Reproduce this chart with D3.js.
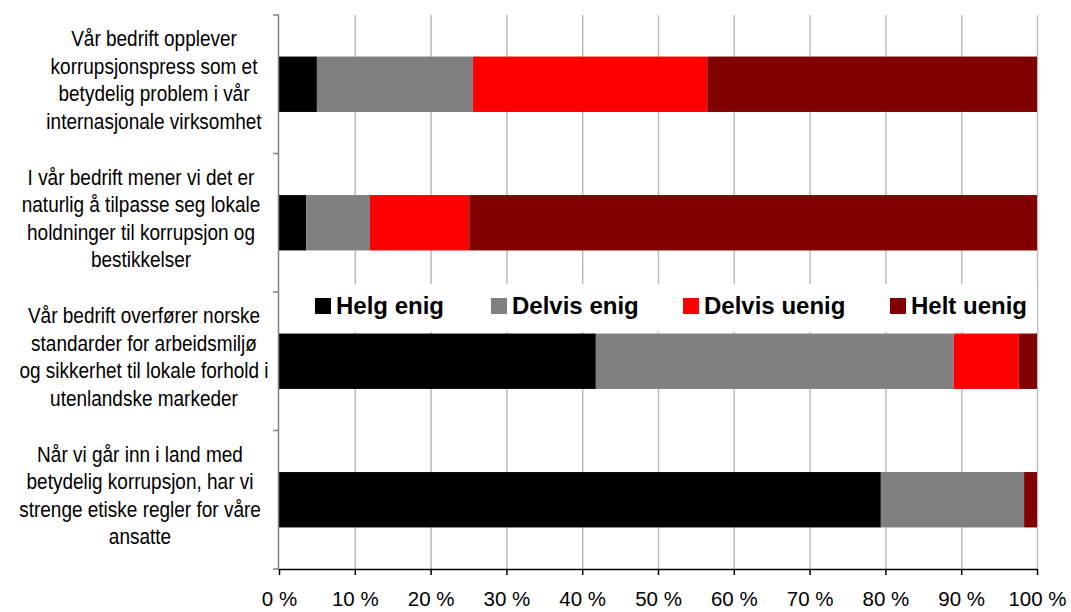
<!DOCTYPE html>
<html>
<head>
<meta charset="utf-8">
<script src="https://cdn.jsdelivr.net/npm/d3@7"></script>
<style>
  html, body { margin: 0; padding: 0; background: #ffffff; }
  svg { display: block; font-family: "Liberation Sans", Arial, sans-serif; }
</style>
</head>
<body>
<svg id="chart" width="1071" height="612"></svg>
<script>
const categories = [
  ["Vår bedrift opplever", "korrupsjonspress som et", "betydelig problem i vår", "internasjonale virksomhet"],
  ["I vår bedrift mener vi det er", "naturlig å tilpasse seg lokale", "holdninger til korrupsjon og", "bestikkelser"],
  ["Vår bedrift overfører norske", "standarder for arbeidsmiljø", "og sikkerhet til lokale forhold i", "utenlandske markeder"],
  ["Når vi går inn i land med", "betydelig korrupsjon, har vi", "strenge etiske regler for våre", "ansatte"]
];
const seriesNames = ["Helg enig", "Delvis enig", "Delvis uenig", "Helt uenig"];
const helgEnig    = [5.0, 3.6, 41.8, 79.4];
const delvisEnig  = [20.6, 8.4, 47.2, 18.9];
const delvisUenig = [30.9, 13.1, 8.6, 0.0];
const heltUenig   = [43.5, 74.9, 2.4, 1.7];
const tickValues  = [0, 10, 20, 30, 40, 50, 60, 70, 80, 90, 100];
const tickLabels  = ["0 %", "10 %", "20 %", "30 %", "40 %", "50 %", "60 %", "70 %", "80 %", "90 %", "100 %"];
const colors = ["#000000", "#808080", "#ff0000", "#800000"];

const svg = d3.select("#chart");
const pLeft = 279, pRight = 1037, pTop = 15, pBottom = 569;

const x = d3.scaleLinear().domain([0, 100]).range([pLeft, pRight]);
const y = d3.scaleBand().domain(d3.range(categories.length)).range([pTop, pBottom]).paddingInner(0.6).paddingOuter(0.3);
const yBand = d3.scaleBand().domain(d3.range(categories.length)).range([pTop, pBottom]);

// gridlines
svg.append("g").selectAll("line").data(tickValues.slice(1)).join("line")
  .attr("x1", d => x(d) + 0.5).attr("x2", d => x(d) + 0.5)
  .attr("y1", pTop).attr("y2", pBottom)
  .attr("stroke", "#bcbcbc").attr("stroke-width", 1.5);

// legend background (covers gridlines)
const legendG = svg.append("g");
legendG.append("rect").attr("x", 305).attr("y", 284).attr("width", 732).attr("height", 48).attr("fill", "#ffffff");

// stacked bars
const table = categories.map((c, i) => ({
  i, v: [helgEnig[i], delvisEnig[i], delvisUenig[i], heltUenig[i]]
}));
const stack = d3.stack().keys([0, 1, 2, 3]).value((d, k) => d.v[k]);
const stacked = stack(table);
svg.append("g").selectAll("g").data(stacked).join("g")
  .attr("fill", (d, k) => colors[k])
  .selectAll("rect").data(d => d).join("rect")
  .attr("x", d => x(d[0]))
  .attr("width", d => Math.max(0, x(d[1]) - x(d[0])))
  .attr("y", d => y(d.data.i))
  .attr("height", y.bandwidth());

// y axis
svg.append("line").attr("x1", pLeft - 0.5).attr("x2", pLeft - 0.5).attr("y1", pTop).attr("y2", pBottom)
  .attr("stroke", "#808080").attr("stroke-width", 1.5);
const yTicks = d3.range(categories.length + 1).map(i => pTop + i * yBand.step());
svg.append("g").selectAll("line").data(yTicks).join("line")
  .attr("x1", pLeft - 6).attr("x2", pLeft).attr("y1", d => d).attr("y2", d => d)
  .attr("stroke", "#808080").attr("stroke-width", 1.5);

// x axis
const xAxis = d3.axisBottom(x).tickValues(tickValues).tickSize(6).tickSizeOuter(0)
  .tickFormat((d, i) => tickLabels[i]);
const gx = svg.append("g").attr("transform", `translate(0,${pBottom})`).call(xAxis);
gx.select(".domain").attr("stroke", "#000").attr("stroke-width", 1.5);
gx.selectAll(".tick line").attr("stroke", "#000").attr("stroke-width", 1.5);
gx.selectAll(".tick text").attr("font-size", "20.5px").attr("fill", "#000")
  .attr("font-family", "Liberation Sans, Arial, sans-serif")
  .attr("y", 0).attr("dy", 0)
  .attr("transform", "translate(0,37)");

// category labels
const lh = 27.5;
const labelCx = [154, 141, 144, 140];
categories.forEach((lines, i) => {
  const cy = yBand(i) + yBand.bandwidth() / 2;
  const n = lines.length;
  svg.append("g").selectAll("text").data(lines).join("text")
    .attr("text-anchor", "middle")
    .attr("font-size", "19px")
    .attr("fill", "#000")
    .attr("transform", (d, j) => `translate(${labelCx[i]},${cy + (j - (n - 1) / 2) * lh + 3}) scale(1,1.12)`)
    .text(d => d);
});

// legend
const legendX = [315, 491, 683, 890];
seriesNames.forEach((name, k) => {
  legendG.append("rect").attr("x", legendX[k]).attr("y", 298).attr("width", 16).attr("height", 16).attr("fill", colors[k]);
  legendG.append("text").attr("font-weight", "bold").attr("font-size", "24px").attr("fill", "#000")
    .attr("x", legendX[k] + 21).attr("y", 314)
    .text(name);
});
</script>
</body>
</html>
